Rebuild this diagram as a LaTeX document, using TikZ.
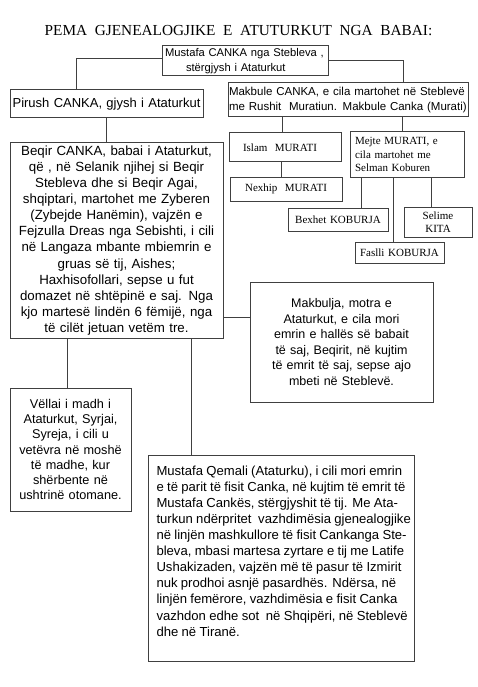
\documentclass[tikz,border=0pt]{standalone}
\usepackage{fontspec}
\setmainfont{Liberation Sans}
\newfontfamily\serifA{Liberation Serif}
\definecolor{boxc}{HTML}{404040}
\newcommand{\jline}[1]{\makebox[249pt][s]{#1}}
\begin{document}
\begin{tikzpicture}[x=1pt,y=-1pt,
  box/.style={draw=boxc, line width=1pt, inner sep=0pt, fill=white},
  link/.style={draw=boxc, line width=1pt},
  serifbox/.style={box, font=\serifA\fontsize{11}{13.5}\selectfont},
]
\useasboundingbox[fill=white] (0,0) rectangle (477,687);

\node[font=\serifA\fontsize{15.3}{18}\selectfont] (title) at (238.5,31) {PEMA\ \ GJENEALOGJIKE\ \ E\ \ ATUTURKUT\ \ NGA\ \ BABAI:};

\node[box, minimum width=166, minimum height=30, text width=164, align=left,
  font=\fontsize{11.2}{15.5}\selectfont] (top) at (245,61)
  {\hspace*{2pt}Mustafa CANKA nga Stebleva ,\\\hspace*{23pt}stërgjysh i Ataturkut};

\node[box, minimum width=193, minimum height=28, text width=189, align=center,
  font=\fontsize{13}{15}\selectfont] (pirush) at (106.5,104)
  {Pirush CANKA, gjysh i Ataturkut};

\node[box, minimum width=240, minimum height=34, text width=238, align=left,
  font=\fontsize{11.5}{14.5}\selectfont] (makbule) at (348,100)
  {Makbule CANKA, e cila martohet në Steblevë\\me Rushit\ \ Muratiun. Makbule Canka (Murati)};

\node[serifbox, minimum width=112, minimum height=29, text width=100, align=left] (islam) at (285,147.5)
  {\hspace*{8pt}Islam\ \ MURATI};

\node[serifbox, minimum width=114, minimum height=45, text width=104, align=left] (mejte) at (407,154.5)
  {Mejte MURATI, e\\cila martohet me\\Selman Koburen};

\node[serifbox, minimum width=112, minimum height=24, text width=104, align=center] (nexhip) at (286,189)
  {Nexhip\ \ MURATI};

\node[serifbox, minimum width=100, minimum height=23, text width=96, align=center] (bexhet) at (338,219.5)
  {Bexhet KOBURJA};

\node[serifbox, minimum width=68, minimum height=30, text width=60, align=center] (selime) at (438,222)
  {Selime\\KITA};

\node[serifbox, minimum width=89, minimum height=21, text width=87, align=center] (faslli) at (399.5,252.5)
  {Faslli KOBURJA};

\node[box, minimum width=213, minimum height=195, text width=207, align=center,
  font=\fontsize{13.3}{16.1}\selectfont] (beqir) at (116.5,240.5)
  {Beqir CANKA, babai i Ataturkut,\\
   që , në Selanik njihej si Beqir\\
   Stebleva dhe si Beqir Agai,\\
   shqiptari, martohet me Zyberen\\
   (Zybejde Hanëmin), vajzën e\\
   Fejzulla Dreas nga Sebishti, i cili\\
   në Langaza mbante mbiemrin e\\
   gruas së tij, Aishes;\\
   Haxhisofollari, sepse u fut\\
   domazet në shtëpinë e saj. Nga\\
   kjo martesë lindën 6 fëmijë, nga\\
   të cilët jetuan vetëm tre.};

\node[box, minimum width=183, minimum height=120, text width=177, align=center,
  font=\fontsize{12.5}{15.6}\selectfont] (makbulja) at (341.5,342)
  {Makbulja, motra e\\
   Ataturkut, e cila mori\\
   emrin e hallës së babait\\
   të saj, Beqirit, në kujtim\\
   të emrit të saj, sepse ajo\\
   mbeti në Steblevë.};

\node[box, minimum width=121, minimum height=123, text width=119, align=center,
  font=\fontsize{12.7}{15.2}\selectfont] (vellai) at (70.5,449.5)
  {Vëllai i madh i\\
   Ataturkut, Syrjai,\\
   Syreja, i cili u\\
   vetëvra në moshë\\
   të madhe, kur\\
   shërbente në\\
   ushtrinë otomane.};

\node[box, minimum width=266, minimum height=206] (mustafa) at (281,558) {};
\node[anchor=north, inner sep=0pt, text width=249] (mustafatext) at ([yshift=-11pt]mustafa.north)
  {\fontsize{13.1}{16.1}\selectfont\parindent=0pt\baselineskip=16.1pt\relax
   \jline{Mustafa Qemali (Ataturku), i cili mori emrin}\par
   \jline{e të parit të fisit Canka, në kujtim të emrit të}\par
   \jline{Mustafa Cankës, stërgjyshit të tij. Me Ata-}\par
   \jline{turkun ndërpritet\ \ vazhdimësia gjenealogjike}\par
   \jline{në linjën mashkullore të fisit Cankanga Ste-}\par
   \jline{bleva, mbasi martesa zyrtare e tij me Latife}\par
   \jline{Ushakizaden, vajzën më të pasur të Izmirit}\par
   \jline{nuk prodhoi asnjë pasardhës. Ndërsa, në}\par
   \jline{linjën femërore, vazhdimësia e fisit Canka}\par
   \jline{vazhdon edhe sot\ \ në Shqipëri, në Steblevë}\par
   dhe në Tiranë.\par};

% connectors
\draw[link] ([yshift=2pt]top.west) -| ([xshift=67pt]pirush.north west);
\draw[link] (top.east) -| ([xshift=-65pt]makbule.north east);
\draw[link] ([xshift=97pt]pirush.south west) -- ([xshift=97pt]pirush.south west |- beqir.north);
\draw[link] ([xshift=55pt]makbule.south west) -- ([xshift=55pt]makbule.south west |- islam.north);
\draw[link] ([xshift=-66pt]makbule.south east) -- ([xshift=-66pt]makbule.south east |- mejte.north);
\draw[link] ([xshift=53pt]islam.south west) -- ([xshift=53pt]islam.south west |- nexhip.north);
\draw[link] ([xshift=12pt]mejte.south west) -- ([xshift=12pt]mejte.south west |- bexhet.north);
\draw[link] ([xshift=44pt]mejte.south west) -- ([xshift=44pt]mejte.south west |- faslli.north);
\draw[link] ([xshift=82pt]mejte.south west) -- ([xshift=82pt]mejte.south west |- selime.north);
\draw[link] ([xshift=58pt]beqir.south west) -- ([xshift=58pt]beqir.south west |- vellai.north);
\draw[link] ([xshift=182pt]beqir.south west) -- ([xshift=182pt]beqir.south west |- mustafa.north);
\draw[link] ([yshift=21pt]beqir.south east) -- ([yshift=21pt]beqir.south east -| makbulja.west);
\end{tikzpicture}
\end{document}
